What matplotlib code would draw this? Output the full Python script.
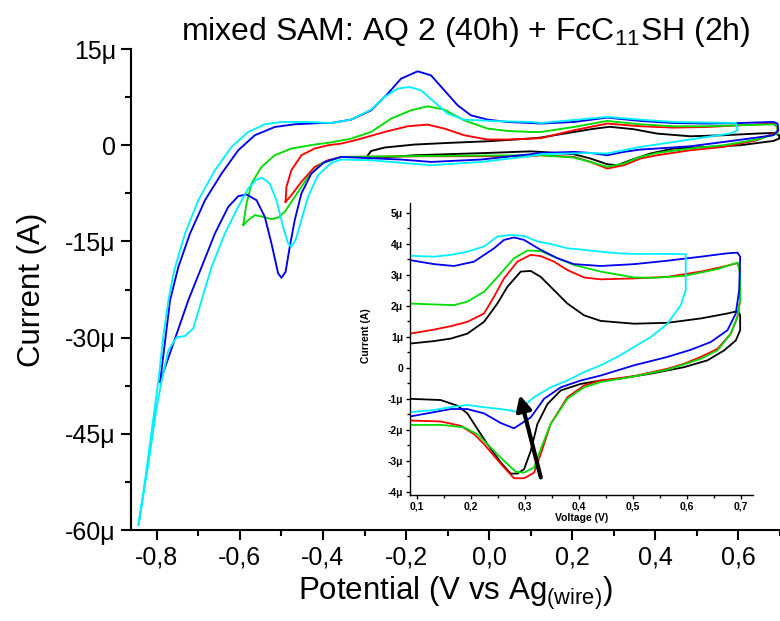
import matplotlib
matplotlib.use('Agg')
import matplotlib.pyplot as plt
from matplotlib.ticker import MultipleLocator, FuncFormatter

plt.rcParams['font.family'] = ['Liberation Sans', 'DejaVu Sans']

# ---- main CVs (potential in V, current in uA) ----
black_v = [-0.292, -0.284, -0.252, -0.180, -0.100, -0.004, 0.100, 0.124, 0.204, 0.250, 0.290,
           0.348, 0.404, 0.484, 0.564, 0.644, 0.684, 0.698, 0.698, 0.684, 0.604, 0.524, 0.444,
           0.388, 0.340, 0.308, 0.284, 0.244, 0.204, 0.124, 0.100, -0.004, -0.180, -0.292]
black_i = [-1.56, -0.89, -0.36, 0.11, 0.36, 0.62, 1.05, 1.20, 2.07, 2.55, 2.88,
           2.50, 1.82, 1.40, 1.56, 1.82, 1.92, 1.56, 1.04, 0.67, 0.00, -0.26, -0.51,
           -1.29, -2.34, -3.12, -2.96, -2.07, -1.40, -1.04, -0.95, -1.20, -1.56, -2.07]

red_v = [-0.490, -0.488, -0.476, -0.452, -0.420, -0.388, -0.356, -0.316, -0.252, -0.196,
         -0.148, -0.108, -0.060, -0.004, 0.044, 0.100, 0.124, 0.204, 0.284, 0.364, 0.444,
         0.524, 0.604, 0.684, 0.694, 0.694, 0.644, 0.564, 0.484, 0.404, 0.364, 0.324, 0.284,
         0.244, 0.204, 0.124, 0.100, -0.140, -0.356, -0.388, -0.420, -0.452, -0.476, -0.490]
red_i = [-8.83, -6.50, -3.89, -1.56, -0.51, 0.00, 0.26, 0.89, 2.07, 2.96,
         3.22, 2.60, 1.56, 0.89, 0.89, 1.04, 1.10, 2.34, 3.38, 2.96, 2.75,
         2.85, 3.12, 3.38, 2.85, 2.07, 0.78, -0.26, -0.78, -1.56, -2.07, -3.12, -3.63,
         -2.60, -1.82, -1.56, -1.71, -1.71, -1.82, -2.34, -3.38, -5.71, -7.79, -8.83]

green_v = [-0.592, -0.584, -0.572, -0.548, -0.516, -0.476, -0.420, -0.380, -0.332, -0.284,
           -0.236, -0.188, -0.148, -0.108, -0.060, -0.004, 0.044, 0.100, 0.124, 0.204, 0.284,
           0.364, 0.444, 0.524, 0.604, 0.684, 0.694, 0.694, 0.644, 0.564, 0.484, 0.404, 0.364,
           0.324, 0.284, 0.244, 0.204, 0.124, 0.100, -0.140, -0.356, -0.404, -0.436, -0.468,
           -0.492, -0.508, -0.524, -0.544, -0.564, -0.580, -0.592]
green_i = [-12.46, -9.08, -5.97, -3.38, -1.56, -0.51, 0.11, 0.45, 1.04, 2.07,
           4.16, 5.45, 6.07, 5.56, 3.89, 2.60, 2.23, 2.07, 2.07, 2.85, 3.79,
           3.27, 2.96, 2.96, 3.12, 3.27, 2.85, 1.82, 0.89, 0.00, -0.51, -1.20, -1.82,
           -2.85, -3.38, -2.60, -1.92, -1.56, -1.56, -1.66, -1.82, -2.85, -4.94, -8.05,
           -10.39, -11.26, -11.53, -11.17, -10.90, -11.68, -12.46]

blue_v = [-0.792, -0.768, -0.748, -0.720, -0.684, -0.644, -0.604, -0.564, -0.516, -0.468,
          -0.404, -0.380, -0.332, -0.284, -0.244, -0.212, -0.172, -0.140, -0.108, -0.076,
          -0.044, -0.004, 0.044, 0.100, 0.124, 0.204, 0.284, 0.364, 0.444, 0.524, 0.604,
          0.684, 0.694, 0.696, 0.684, 0.644, 0.564, 0.484, 0.404, 0.364, 0.324, 0.284,
          0.244, 0.204, 0.124, 0.100, -0.020, -0.140, -0.212, -0.356, -0.396, -0.428,
          -0.452, -0.468, -0.480, -0.490, -0.500, -0.508, -0.524, -0.540, -0.560, -0.584,
          -0.604, -0.628, -0.660, -0.692, -0.724, -0.792]
blue_i = [-36.87, -24.14, -18.96, -13.75, -8.57, -4.41, -0.78, 1.56, 2.85, 3.27,
          3.47, 3.47, 4.00, 5.45, 8.05, 10.39, 11.53, 10.90, 8.57, 6.23,
          4.67, 4.00, 3.63, 3.47, 3.38, 3.63, 4.31, 3.79, 3.47, 3.38, 3.47,
          3.63, 3.38, 2.34, 1.56, 1.20, 0.51, -0.16, -0.51, -0.67, -1.04, -1.56,
          -1.20, -1.04, -1.20, -1.40, -2.23, -2.60, -2.23, -1.82, -2.60, -4.41,
          -7.52, -11.68, -15.84, -19.74, -20.67, -19.98, -15.31, -11.17, -8.57, -7.68,
          -7.94, -9.61, -13.75, -18.96, -24.14, -36.87]

cyan_v = [-0.844, -0.828, -0.812, -0.796, -0.784, -0.772, -0.758, -0.732, -0.700, -0.660,
          -0.620, -0.580, -0.540, -0.500, -0.436, -0.380, -0.332, -0.284, -0.252, -0.220,
          -0.192, -0.164, -0.132, -0.100, -0.060, 0.004, 0.100, 0.124, 0.284, 0.364, 0.444,
          0.594, 0.598, 0.580, 0.524, 0.444, 0.364, 0.324, 0.284, 0.244, 0.124, 0.100,
          -0.020, -0.140, -0.284, -0.356, -0.380, -0.412, -0.436, -0.452, -0.466, -0.476,
          -0.484, -0.496, -0.512, -0.528, -0.546, -0.560, -0.580, -0.604, -0.636, -0.668,
          -0.692, -0.712, -0.732, -0.752, -0.772, -0.788, -0.800, -0.820, -0.844]
cyan_i = [-59.19, -52.18, -44.39, -36.60, -29.60, -24.14, -19.50, -13.75, -8.57, -3.89,
          -0.26, 2.07, 3.27, 3.63, 3.63, 3.47, 4.00, 5.56, 7.53, 8.83,
          9.09, 8.57, 6.74, 4.94, 4.00, 3.79, 3.63, 3.47, 4.41, 3.99, 3.63,
          3.47, 2.34, 1.82, 1.29, 0.51, -0.26, -0.78, -1.29, -1.20, -1.40, -1.70,
          -2.60, -3.12, -2.34, -2.23, -2.75, -4.67, -8.05, -11.68, -14.80, -15.84,
          -15.31, -12.73, -8.57, -5.97, -5.09, -5.34, -6.74, -9.61, -13.75, -18.96,
          -24.14, -28.55, -29.75, -29.95, -31.93, -36.60, -40.76, -49.58, -59.19]

# ---- inset (Fc region) ----
in_black_v = [0.0877, 0.1321, 0.1630, 0.1938, 0.2247, 0.2494, 0.2679, 0.2926, 0.3111, 0.3296,
              0.3543, 0.3790, 0.4099, 0.4407, 0.5025, 0.5642, 0.6259, 0.6753, 0.6951,
              0.6988, 0.6988, 0.6907, 0.6691, 0.6383, 0.5951, 0.5333, 0.4716, 0.4407, 0.4037,
              0.3667, 0.3420, 0.3235, 0.3111, 0.2988, 0.2864, 0.2741, 0.2556, 0.2309, 0.2123,
              0.1938, 0.1753, 0.1444, 0.0877]
in_black_i = [0.78, 0.86, 0.94, 1.10, 1.48, 2.07, 2.61, 3.10, 3.12, 2.93,
              2.50, 2.07, 1.69, 1.51, 1.42, 1.45, 1.59, 1.75, 1.83,
              1.69, 1.21, 0.88, 0.56, 0.24, 0.02, -0.19, -0.36, -0.41, -0.52,
              -0.73, -1.17, -1.81, -2.68, -3.27, -3.41, -3.41, -3.05, -2.46, -1.97,
              -1.47, -1.22, -1.04, -1.00]

in_red_v = [0.0877, 0.1321, 0.1630, 0.1938, 0.2247, 0.2432, 0.2617, 0.2864, 0.3111, 0.3296,
            0.3543, 0.3790, 0.4099, 0.4407, 0.5025, 0.5642, 0.6259, 0.6630, 0.6938,
            0.6988, 0.6988, 0.6938, 0.6815, 0.6568, 0.6259, 0.5951, 0.5642, 0.5025, 0.4407,
            0.4099, 0.3790, 0.3481, 0.3296, 0.3173, 0.2988, 0.2802, 0.2617, 0.2432, 0.2247,
            0.2062, 0.1815, 0.1444, 0.0877]
in_red_i = [1.10, 1.23, 1.34, 1.48, 1.75, 2.29, 2.88, 3.42, 3.64, 3.60,
            3.42, 3.15, 2.91, 2.85, 2.88, 2.93, 3.10, 3.24, 3.37,
            3.15, 2.18, 1.64, 1.10, 0.61, 0.35, 0.13, -0.03, -0.27, -0.41,
            -0.57, -0.95, -1.81, -2.78, -3.38, -3.56, -3.56, -3.21, -2.84, -2.46,
            -2.14, -1.87, -1.73, -1.70]

in_green_v = [0.0877, 0.1321, 0.1691, 0.1938, 0.2247, 0.2556, 0.2802, 0.3049, 0.3296, 0.3605,
              0.3914, 0.4407, 0.5025, 0.5395, 0.5951, 0.6568, 0.6938,
              0.6988, 0.6988, 0.6938, 0.6815, 0.6568, 0.6259, 0.5951, 0.5642, 0.5025, 0.4407,
              0.4099, 0.3790, 0.3481, 0.3296, 0.3173, 0.2988, 0.2833, 0.2617, 0.2370, 0.2123,
              0.1877, 0.1444, 0.0877]
in_green_i = [2.07, 2.04, 2.02, 2.13, 2.45, 3.04, 3.53, 3.78, 3.76, 3.53,
              3.31, 3.10, 2.91, 2.90, 2.96, 3.18, 3.39,
              3.04, 2.18, 1.64, 1.10, 0.56, 0.29, 0.11, -0.06, -0.28, -0.46,
              -0.63, -1.00, -1.81, -2.62, -3.21, -3.38, -3.35, -3.00, -2.57, -2.14,
              -1.92, -1.84, -1.84]

in_blue_v = [0.0877, 0.1321, 0.1691, 0.2062, 0.2432, 0.2617, 0.2802, 0.2988, 0.3296, 0.3605,
             0.3914, 0.4407, 0.5025, 0.5642, 0.6259, 0.6753, 0.6938,
             0.6988, 0.6969, 0.6907, 0.6753, 0.6444, 0.6074, 0.5642, 0.5025, 0.4407, 0.4037,
             0.3667, 0.3358, 0.3111, 0.2802, 0.2556, 0.2247, 0.1938, 0.1630, 0.1321, 0.0877]
in_blue_i = [3.47, 3.34, 3.28, 3.42, 3.85, 4.12, 4.20, 4.12, 3.80, 3.53,
             3.34, 3.28, 3.34, 3.45, 3.58, 3.69, 3.71,
             3.58, 2.50, 1.75, 1.21, 0.83, 0.58, 0.35, 0.08, -0.25, -0.41,
             -0.63, -1.00, -1.60, -1.95, -1.78, -1.47, -1.33, -1.33, -1.43, -1.57]

in_cyan_v = [0.0877, 0.1321, 0.1630, 0.1938, 0.2247, 0.2494, 0.2741, 0.2988, 0.3235, 0.3481,
             0.3790, 0.4099, 0.4407, 0.4716, 0.5025, 0.5333, 0.5642, 0.5981,
             0.5981, 0.5889, 0.5642, 0.5333, 0.5025, 0.4716, 0.4407, 0.4099, 0.3790, 0.3481,
             0.3173, 0.2988, 0.2895, 0.2741, 0.2556, 0.2247, 0.1938, 0.1630, 0.1321, 0.0877]
in_cyan_i = [3.61, 3.58, 3.64, 3.74, 3.91, 4.23, 4.28, 4.25, 4.07, 3.99,
             3.85, 3.80, 3.74, 3.69, 3.67, 3.67, 3.67, 3.66,
             2.50, 2.02, 1.42, 0.99, 0.67, 0.35, 0.08, -0.14, -0.41, -0.63,
             -0.95, -1.22, -1.43, -1.38, -1.33, -1.27, -1.20, -1.27, -1.36, -1.43]

arrow_tail = (0.331, -3.62)
arrow_head = (0.2895, -0.79)

colors = {'black': '#000000', 'red': '#ff0000', 'green': '#00dd00',
          'blue': '#0000ee', 'cyan': '#00f0ff'}


def micro_fmt(val, pos):
    if abs(val) < 1e-9:
        return '0'
    return '%gμ' % val


def comma_fmt(val, pos):
    return ('%.1f' % val).replace('.', ',')


fig = plt.figure(figsize=(7.8, 6.21), dpi=100)
ax = fig.add_axes([0.168, 0.1465, 0.832, 0.7745])

main = [(black_v, black_i, 'black'), (red_v, red_i, 'red'), (green_v, green_i, 'green'),
        (blue_v, blue_i, 'blue'), (cyan_v, cyan_i, 'cyan')]
for v, i, c in main:
    ax.plot(v, i, color=colors[c], lw=1.35, solid_joinstyle='round')

ax.set_xlim(-0.862, 0.70)
ax.set_ylim(-60, 15)
for s in ['top', 'right']:
    ax.spines[s].set_visible(False)
for s in ['left', 'bottom']:
    ax.spines[s].set_linewidth(1.5)
ax.xaxis.set_major_locator(MultipleLocator(0.2))
ax.xaxis.set_minor_locator(MultipleLocator(0.1))
ax.yaxis.set_major_locator(MultipleLocator(15))
ax.yaxis.set_minor_locator(MultipleLocator(7.5))
ax.xaxis.set_major_formatter(FuncFormatter(comma_fmt))
ax.yaxis.set_major_formatter(FuncFormatter(micro_fmt))
ax.tick_params(which='major', length=7, width=1.5, labelsize=18, pad=4)
ax.tick_params(which='minor', length=4, width=1.5)
ax.set_xlabel('Potential (V vs Ag$_{\\mathregular{(wire)}}$)', fontsize=22.5)
ax.set_ylabel('Current (A)', fontsize=22.5)
ax.yaxis.set_label_coords(-0.13, 0.5)

fig.text(0.597, 0.935, 'mixed SAM: AQ 2 (40h) + FcC$_{\\mathregular{11}}$SH (2h)',
         fontsize=23, ha='center', va='baseline')

# inset
ins = fig.add_axes([0.5256, 0.2029, 0.4394, 0.4697])
inset = [(in_black_v, in_black_i, 'black'), (in_red_v, in_red_i, 'red'),
         (in_green_v, in_green_i, 'green'), (in_blue_v, in_blue_i, 'blue'),
         (in_cyan_v, in_cyan_i, 'cyan')]
for v, i, c in inset:
    ins.plot(v, i, color=colors[c], lw=1.3)
ins.set_xlim(0.0876, 0.722)
ins.set_ylim(-4.1, 5.3)
for s in ['top', 'right']:
    ins.spines[s].set_visible(False)
for s in ['left', 'bottom']:
    ins.spines[s].set_linewidth(1.0)
ins.xaxis.set_major_locator(MultipleLocator(0.1))
ins.xaxis.set_minor_locator(MultipleLocator(0.05))
ins.yaxis.set_major_locator(MultipleLocator(1))
ins.yaxis.set_minor_locator(MultipleLocator(0.5))
ins.xaxis.set_major_formatter(FuncFormatter(comma_fmt))
ins.yaxis.set_major_formatter(FuncFormatter(micro_fmt))
ins.tick_params(which='major', length=3, width=1, labelsize=7.5, pad=2)
ins.tick_params(which='minor', length=2, width=1)
for lab in ins.get_xticklabels() + ins.get_yticklabels():
    lab.set_fontweight('bold')
ins.set_xlabel('Voltage (V)', fontsize=7.5, fontweight='bold', labelpad=1)
ins.set_ylabel('Current (A)', fontsize=7.5, fontweight='bold')
ins.yaxis.set_label_coords(-0.114, 0.545)
ins.patch.set_alpha(0)

ins.annotate('', xy=arrow_head, xytext=arrow_tail,
             arrowprops=dict(arrowstyle='-|>,head_length=0.9,head_width=0.45',
                             color='black', lw=3))

fig.savefig('out.png', dpi=100)
